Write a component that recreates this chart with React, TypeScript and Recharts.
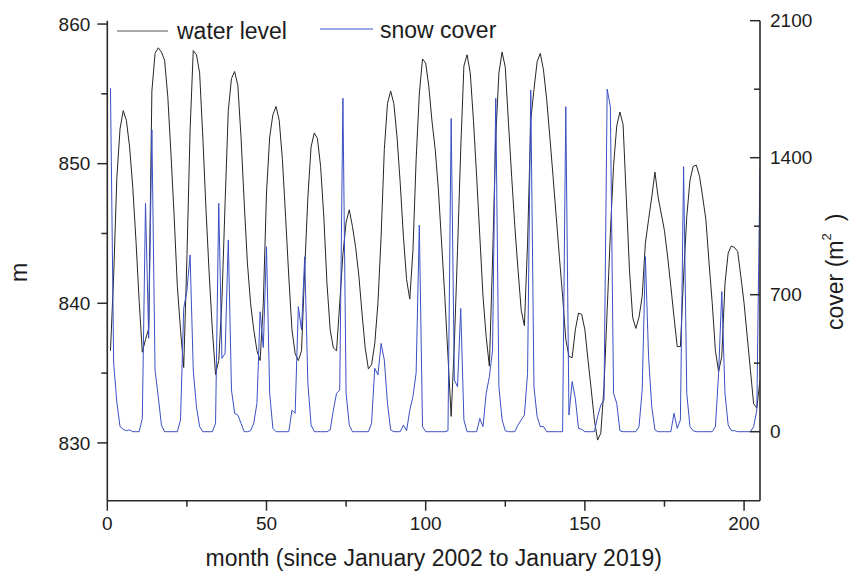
import React from 'react';
import { LineChart, Line, XAxis, YAxis } from 'recharts';

const waterLevel: number[] = [
  836.6, 842, 849, 852.5, 853.8, 853.1, 851.2, 848.3, 844.5, 840.2,
  836.5, 837.4, 838.2, 855.2, 857.9, 858.3, 858, 857.4, 854.8, 850.7,
  846.2, 841.2, 838.1, 835.4, 843.2, 852.4, 858.1, 857.8, 856.5, 851.9,
  846.7, 842.1, 838.1, 834.9, 835.9, 840.2, 847.2, 853.8, 856.1, 856.6,
  855.6, 851.9, 847.2, 842.9, 840, 838.1, 836.6, 835.9, 840, 847.9,
  851.9, 853.5, 854.1, 853.1, 850.3, 846.2, 841.9, 838.1, 836.4, 835.9,
  836.6, 842.4, 847.6, 851.2, 852.2, 851.8, 849.8, 846.2, 841.4, 838.1,
  836.8, 836.6, 840, 843.5, 845.8, 846.7, 845.5, 844, 842, 839.3,
  836.8, 835.3, 835.6, 837.1, 840, 844.8, 851, 854.3, 855.2, 854.3,
  851.9, 848.6, 844.8, 841.7, 840.3, 843.8, 850.3, 855, 857.5, 857.2,
  855.5, 853, 851, 848.1, 844.3, 840.5, 836.2, 831.9, 837.1, 843.8,
  851, 857, 857.8, 856.5, 853.1, 849.1, 844.8, 840.5, 837.6, 835.5,
  843.1, 851.9, 856.5, 858, 856.9, 852.9, 849.1, 845.5, 842.4, 839.5,
  838.4, 844.3, 853.1, 855.3, 857.3, 857.9, 856.7, 854.6, 851.9, 849.1,
  846.2, 843.3, 840.5, 837.4, 836.2, 836.1, 838.1, 839.3, 839.2, 838.1,
  835.9, 833.8, 831.6, 830.2, 830.7, 834, 839.5, 845, 849.8, 852.7,
  853.7, 852.8, 847.6, 842.4, 839, 838.2, 839, 840.5, 844.3, 846,
  847.6, 849.4, 847.6, 846.4, 845.2, 843.3, 841.2, 839, 836.9, 836.9,
  841.9, 846.2, 848.8, 849.8, 849.9, 849.1, 847.6, 846, 842.9, 840,
  836.6, 835.1, 836.2, 841.4, 843.6, 844.1, 844, 843.7, 841.9, 840,
  837.6, 835.2, 832.8, 832.5, 834.5,
];

const snowCover: number[] = [
  1755, 350, 150, 26, 12, 5, 9, 0, 0, 0,
  68, 1167, 477, 1542, 315, 179, 34, 0, 0, 0,
  0, 0, 60, 630, 720, 903, 315, 128, 26, 0,
  0, 0, 0, 43, 1167, 375, 400, 980, 213, 94,
  85, 43, 0, 0, 5, 43, 145, 613, 430, 945,
  196, 17, 0, 0, 0, 0, 0, 110, 94, 639,
  520, 894, 247, 34, 0, 0, 0, 0, 0, 9,
  110, 196, 213, 1704, 196, 34, 0, 0, 0, 0,
  0, 0, 43, 324, 290, 451, 366, 145, 9, 0,
  0, 0, 34, 5, 110, 180, 300, 1056, 26, 0,
  0, 0, 0, 0, 0, 0, 5, 1601, 264, 230,
  630, 60, 0, 0, 0, 0, 68, 26, 196, 281,
  417, 1704, 230, 60, 5, 0, 0, 0, 34, 60,
  85, 298, 1746, 230, 77, 26, 26, 0, 0, 0,
  0, 0, 0, 1661, 85, 256, 170, 17, 12, 0,
  0, 0, 0, 77, 136, 162, 1750, 1660, 196, 145,
  5, 0, 0, 0, 0, 0, 26, 213, 894, 383,
  128, 9, 0, 0, 0, 0, 0, 94, 17, 60,
  1354, 196, 26, 5, 0, 0, 0, 0, 0, 0,
  26, 298, 716, 196, 34, 5, 5, 0, 0, 0,
  0, 0, 26, 110, 1354,
];

const monthTicks = [0, 25, 50, 75, 100, 125, 150, 175, 200];
const levelTicks = [830, 835, 840, 845, 850, 855, 860];
const coverTicks = [0, 350, 700, 1050, 1400, 1750, 2100];

const data = waterLevel.map((w, i) => ({ month: i + 1, water: w, snow: snowCover[i] }));

const FONT = '"Liberation Sans", Arial, Helvetica, sans-serif';
const AXIS = '#2b2b2b';
const TEXT = '#1c1c1c';
const WATER = '#262626';
const SNOW = '#3a4fc4';

const LeftTick = (props: any) => {
  const { x, y, payload } = props;
  const major = payload.value % 10 === 0;
  return (
    <g>
      <line x1={x} x2={x - (major ? 10 : 6)} y1={y} y2={y} stroke={AXIS} strokeWidth={1.5} />
      {major && (
        <text x={x - 17} y={y} dy="0.35em" textAnchor="end" fontSize={19} fontFamily={FONT} fill={TEXT}>
          {payload.value}
        </text>
      )}
    </g>
  );
};

const RightTick = (props: any) => {
  const { x, y, payload } = props;
  const major = payload.value % 700 === 0;
  return (
    <g>
      <line x1={x} x2={x - (major ? 10 : 6)} y1={y} y2={y} stroke={AXIS} strokeWidth={1.5} />
      {major && (
        <text x={x + 10} y={y} dy="0.35em" textAnchor="start" fontSize={19} fontFamily={FONT} fill={TEXT}>
          {payload.value}
        </text>
      )}
    </g>
  );
};

const BottomTick = (props: any) => {
  const { x, y, payload } = props;
  const major = payload.value % 50 === 0;
  return (
    <g>
      <line x1={x} x2={x} y1={y} y2={y + (major ? 10 : 6)} stroke={AXIS} strokeWidth={1.5} />
      {major && (
        <text x={x} y={530} textAnchor="middle" fontSize={19} fontFamily={FONT} fill={TEXT}>
          {payload.value}
        </text>
      )}
    </g>
  );
};

export default function App() {
  return (
    <div style={{ position: 'absolute', left: 0, top: 0, width: 854, height: 573, background: '#fff' }}>
      <div style={{ position: 'absolute', left: 0, top: 0 }}>
        <LineChart width={854} height={573} data={data} margin={{ top: 20.7, right: 0, left: 0, bottom: 0 }}>
          <XAxis
            dataKey="month"
            type="number"
            domain={[0, 205]}
            ticks={monthTicks}
            interval={0}
            allowDataOverflow
            height={72.3}
            tickSize={0}
            tickMargin={0}
            tickLine={false}
            axisLine={{ stroke: AXIS, strokeWidth: 1.6 }}
            tick={<BottomTick />}
          />
          <YAxis
            yAxisId="left"
            orientation="left"
            type="number"
            domain={[825.86, 860.24]}
            ticks={levelTicks}
            interval={0}
            allowDataOverflow
            width={107.3}
            tickSize={0}
            tickMargin={0}
            tickLine={false}
            axisLine={{ stroke: AXIS, strokeWidth: 1.6 }}
            tick={<LeftTick />}
          />
          <YAxis
            yAxisId="right"
            orientation="right"
            type="number"
            domain={[-352.6, 2100]}
            ticks={coverTicks}
            interval={0}
            allowDataOverflow
            width={94}
            tickSize={0}
            tickMargin={0}
            tickLine={false}
            axisLine={{ stroke: AXIS, strokeWidth: 1.6 }}
            tick={<RightTick />}
          />
          <Line
            yAxisId="left"
            type="linear"
            dataKey="water"
            stroke={WATER}
            strokeWidth={1}
            dot={false}
            isAnimationActive={false}
          />
          <Line
            yAxisId="right"
            type="linear"
            dataKey="snow"
            stroke={SNOW}
            strokeWidth={1}
            dot={false}
            isAnimationActive={false}
          />
        </LineChart>
      </div>
      <svg
        width={854}
        height={573}
        style={{ position: 'absolute', left: 0, top: 0, pointerEvents: 'none' }}
      >
        <line x1={117} x2={168} y1={31} y2={31} stroke="#555" strokeWidth={1} />
        <text x={177} y={38.5} fontSize={23} fontFamily={FONT} fill={TEXT}>water level</text>
        <line x1={320} x2={373} y1={29} y2={29} stroke={SNOW} strokeWidth={1} />
        <text x={380} y={38} fontSize={23} fontFamily={FONT} fill={TEXT}>snow cover</text>
        <text x={433.7} y={566} textAnchor="middle" fontSize={23} fontFamily={FONT} fill={TEXT}>
          month (since January 2002 to January 2019)
        </text>
        <text
          x={26.5}
          y={272.5}
          textAnchor="middle"
          fontSize={23}
          fontFamily={FONT}
          fill={TEXT}
          transform="rotate(-90 26.5 272.5)"
        >
          m
        </text>
        <text
          x={843.3}
          y={330}
          textAnchor="start"
          fontSize={23}
          fontFamily={FONT}
          fill={TEXT}
          transform="rotate(-90 843.3 330)"
        >
          <tspan>cover (m</tspan>
          <tspan dy={-12} fontSize={13}>2</tspan>
          <tspan dy={12} dx={12}>)</tspan>
        </text>
      </svg>
    </div>
  );
}
